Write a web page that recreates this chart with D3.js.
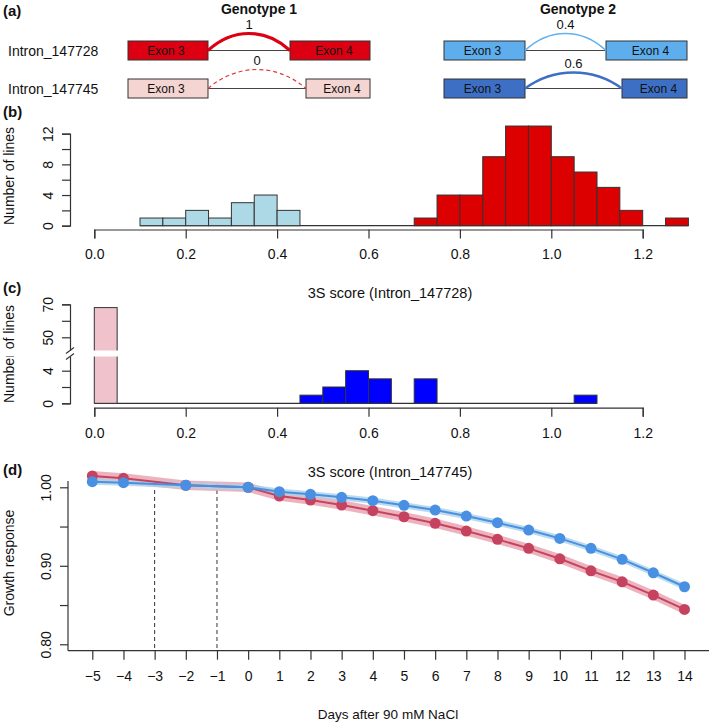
<!DOCTYPE html>
<html>
<head>
<meta charset="utf-8">
<title>3S score figure</title>
<script src="https://d3js.org/d3.v7.min.js"></script>
<style>
  body { margin: 0; background: #fff; }
  svg { font-family: "Liberation Sans", Arial, Helvetica, sans-serif; }
  .axis path, .axis line { stroke: #333; stroke-width: 1.2; }
  .axis text { font-size: 14px; fill: #111; font-family: "Liberation Sans", Arial, sans-serif; }
</style>
</head>
<body>
<script>
// ---- data ----
const introns = ["Intron_147728", "Intron_147745"];
const genotypes = ["Genotype 1", "Genotype 2"];
const g1Usage = [1, 0];
const g2Usage = [0.4, 0.6];

// panel b: 3S score (Intron_147728), bin width 0.05
const bLowStarts = [0.10, 0.15, 0.20, 0.25, 0.30, 0.35, 0.40];
const bLowCounts = [1, 1, 2, 1, 3, 4, 2];
const bHighStarts = [0.70, 0.75, 0.80, 0.85, 0.90, 0.95, 1.00, 1.05, 1.10, 1.15, 1.20, 1.25];
const bHighCounts = [1, 4, 4, 9, 13, 13, 9, 7, 5, 2, 0, 1];

// panel c: 3S score (Intron_147745)
const cLowStarts = [0.00];
const cLowCounts = [68];
const cHighStarts = [0.45, 0.50, 0.55, 0.60, 0.65, 0.70, 0.75, 0.80, 0.85, 0.90, 0.95, 1.00, 1.05];
const cHighCounts = [1, 2, 4, 3, 0, 3, 0, 0, 0, 0, 0, 0, 1];

const scoreTicks = [0, 0.2, 0.4, 0.6, 0.8, 1.0, 1.2];
const bYTicks = [0, 2, 4, 6, 8, 10, 12];
const bYLabels = [0, 4, 8, 12];
const cYTicks = [0, 2, 4, 50, 60, 70];
const cYLabels = [0, 4, 50, 70];

// panel d: growth response
const days = [-5, -4, -2, 0, 1, 2, 3, 4, 5, 6, 7, 8, 9, 10, 11, 12, 13, 14];
const redGrowth = [1.0144, 1.0115, 1.0026, 1.000, 0.9889, 0.9838, 0.9774, 0.9702, 0.9625, 0.9541, 0.9443, 0.9337, 0.9222, 0.9089, 0.8936, 0.8796, 0.8627, 0.8444];
const blueGrowth = [1.0071, 1.0059, 1.0026, 1.000, 0.9944, 0.9911, 0.9872, 0.9829, 0.9770, 0.9710, 0.9634, 0.9549, 0.9455, 0.9349, 0.9222, 0.9082, 0.8911, 0.8733];
const redSE = [0.0065, 0.0065, 0.006, 0.006, 0.006, 0.006, 0.006, 0.006, 0.006, 0.006, 0.006, 0.006, 0.006, 0.006, 0.006, 0.006, 0.006, 0.006];
const blueSE = [0.004, 0.004, 0.004, 0.004, 0.004, 0.004, 0.004, 0.004, 0.004, 0.004, 0.004, 0.004, 0.004, 0.004, 0.004, 0.004, 0.004, 0.004];
const dayTicks = d3.range(-5, 15);
const dYTicks = [0.80, 0.85, 0.90, 0.95, 1.00];
const dYLabels = [0.80, 0.90, 1.00];
const markDays = [-3, -1];

const binW = 0.05;

const svg = d3.select("body").append("svg")
  .attr("width", 709).attr("height", 723);

function panelLabel(txt, x, y) {
  svg.append("text").attr("x", x).attr("y", y)
    .attr("font-size", 15).attr("font-weight", "bold").attr("fill", "#111").text(txt);
}

function rotLabel(txt, x, y) {
  svg.append("text").attr("transform", `translate(${x},${y}) rotate(-90)`)
    .attr("text-anchor", "middle").attr("font-size", 14).attr("fill", "#111").text(txt);
}

function yAxis(scale, x, ticks, labels, fmt) {
  const g = svg.append("g").attr("class", "axis").attr("transform", `translate(${x},0)`)
    .call(d3.axisLeft(scale).tickValues(ticks).tickSizeOuter(0).tickSize(8)
      .tickFormat(d => labels.includes(d) ? fmt(d) : ""));
  g.selectAll(".tick text")
    .attr("transform", "rotate(-90)")
    .attr("x", 0).attr("y", -22)
    .attr("dy", "0.35em")
    .attr("text-anchor", "middle");
  return g;
}

function xAxis(scale, y, ticks, fmt) {
  const g = svg.append("g").attr("class", "axis").attr("transform", `translate(0,${y})`)
    .call(d3.axisBottom(scale).tickValues(ticks).tickSizeOuter(0).tickSize(9).tickFormat(fmt));
  g.selectAll(".tick text").attr("y", 20);
  return g;
}

// ---- panel a ----
panelLabel("(a)", 3, 16);
const rowY = [41, 79];
const boxH = 19;
introns.forEach((name, i) => {
  svg.append("text").attr("x", 8).attr("y", rowY[i] + boxH / 2 + 5)
    .attr("font-size", 14).attr("fill", "#111").text(name);
});

const geneLayouts = [
  { title: genotypes[0], cx: 259, usage: g1Usage,
    exon3: [[128, 208], [128, 208]], exon4: [[290, 370], [306, 370]],
    fills: ["#dc0012", "#f4d5d1"], arcColors: ["#dc0012", "#e23a3f"],
    arcWidths: [3.2, 1.2], dashed: [false, true], peak: [17, 19] },
  { title: genotypes[1], cx: 578, usage: g2Usage,
    exon3: [[444, 525], [444, 525]], exon4: [[606, 687], [622, 687]],
    fills: ["#5eaeee", "#3d6fc4"], arcColors: ["#62b0ee", "#3d6fc4"],
    arcWidths: [1.6, 2.6], dashed: [false, false], peak: [17, 16] }
];

geneLayouts.forEach(L => {
  svg.append("text").attr("x", L.cx).attr("y", 14).attr("text-anchor", "middle")
    .attr("font-size", 14).attr("font-weight", "bold").attr("fill", "#111").text(L.title);
  L.usage.forEach((u, i) => {
    const top = rowY[i], mid = top + boxH / 2;
    const [a0, a1] = L.exon3[i], [b0, b1] = L.exon4[i];
    svg.append("line").attr("x1", a1).attr("x2", b0).attr("y1", mid).attr("y2", mid)
      .attr("stroke", "#444").attr("stroke-width", 1.2);
    [[a0, a1, "Exon 3", -2], [b0, b1, "Exon 4", 4]].forEach(([x0, x1, t, off]) => {
      svg.append("rect").attr("x", x0).attr("y", top).attr("width", x1 - x0).attr("height", boxH)
        .attr("fill", L.fills[i]).attr("stroke", "#333").attr("stroke-width", 1);
      svg.append("text").attr("x", (x0 + x1) / 2 + off).attr("y", mid + 4.5)
        .attr("text-anchor", "middle").attr("font-size", 12).attr("fill", "#111").text(t);
    });
    const yp = mid - L.peak[i];
    const c = (8 * yp - 2 * mid) / 6;
    const w = b0 - a1;
    svg.append("path")
      .attr("d", `M${a1},${mid} C${a1 + w * 0.3},${c} ${b0 - w * 0.3},${c} ${b0},${mid}`)
      .attr("fill", "none").attr("stroke", L.arcColors[i]).attr("stroke-width", L.arcWidths[i])
      .attr("stroke-dasharray", L.dashed[i] ? "4,3" : null);
    svg.append("text").attr("x", (a1 + b0) / 2).attr("y", yp - 5)
      .attr("text-anchor", "middle").attr("font-size", 13).attr("fill", "#111").text(u);
  });
});

// ---- panel b ----
panelLabel("(b)", 3, 117);
const xScore = d3.scaleLinear([0, 1.2], [94.3, 642.7]);
const yB = d3.scaleLinear([0, 12], [225.7, 133.7]);

svg.append("line")
  .attr("x1", xScore(bLowStarts[0])).attr("x2", xScore(bHighStarts[bHighStarts.length - 1] + binW))
  .attr("y1", yB(0)).attr("y2", yB(0)).attr("stroke", "#333").attr("stroke-width", 1.2);

function bars(starts, counts, yS, fill) {
  svg.append("g").selectAll("rect").data(starts.map((s, i) => ({ s, n: counts[i] })).filter(d => d.n > 0))
    .join("rect")
    .attr("x", d => xScore(d.s)).attr("width", d => xScore(d.s + binW) - xScore(d.s))
    .attr("y", d => yS(d.n)).attr("height", d => yS(0) - yS(d.n))
    .attr("fill", fill).attr("stroke", "#333").attr("stroke-width", 1);
}
bars(bLowStarts, bLowCounts, yB, "#add8e6");
bars(bHighStarts, bHighCounts, yB, "#dc0000");

yAxis(yB, 70, bYTicks, bYLabels, d => d);
xAxis(xScore, 229.5, scoreTicks, d3.format(".1f"));
rotLabel("Number of lines", 14, 176);
svg.append("text").attr("x", 390).attr("y", 298).attr("text-anchor", "middle")
  .attr("font-size", 14.5).attr("fill", "#111").text("3S score (Intron_147728)");

// ---- panel c ----
panelLabel("(c)", 3, 293);
const yC = d3.scaleLinear([0, 6, 40, 70], [403.3, 354.4, 353.8, 304.3]);

svg.append("line")
  .attr("x1", xScore(cLowStarts[0])).attr("x2", xScore(cHighStarts[cHighStarts.length - 1] + binW))
  .attr("y1", yC(0)).attr("y2", yC(0)).attr("stroke", "#333").attr("stroke-width", 1.2);
bars(cLowStarts, cLowCounts, yC, "#efc2cc");
bars(cHighStarts, cHighCounts, yC, "#0000ff");

yAxis(yC, 70, cYTicks, cYLabels, d => d);
xAxis(xScore, 407.7, scoreTicks, d3.format(".1f"));
rotLabel("Number of lines", 14, 354);

// axis break
svg.append("rect").attr("x", 0).attr("y", 350.5).attr("width", 118).attr("height", 6).attr("fill", "#fff");
[350.5, 356.5].forEach(y => {
  svg.append("line").attr("x1", 66).attr("x2", 74).attr("y1", y + 3).attr("y2", y - 3)
    .attr("stroke", "#333").attr("stroke-width", 1.1);
});

svg.append("text").attr("x", 390).attr("y", 477).attr("text-anchor", "middle")
  .attr("font-size", 14.5).attr("fill", "#111").text("3S score (Intron_147745)");

// ---- panel d ----
panelLabel("(d)", 3, 475);
const xD = d3.scaleLinear([-5, 14], [92.3, 684.5]);
const yD = d3.scaleLinear([0.80, 1.00], [644.3, 487.3]);
const plotTop = 481, plotBottom = 650.7;

markDays.forEach(d => {
  svg.append("line").attr("x1", xD(d)).attr("x2", xD(d)).attr("y1", plotTop + 2).attr("y2", plotBottom)
    .attr("stroke", "#333").attr("stroke-width", 1).attr("stroke-dasharray", "4,3");
});

const series = [
  { vals: redGrowth, se: redSE, band: "#e7a0ae", line: "#c6435f" },
  { vals: blueGrowth, se: blueSE, band: "#a9d2ea", line: "#4a90e2" }
];
const area = d3.area().x(d => xD(d.day)).y0(d => yD(d.v - d.se)).y1(d => yD(d.v + d.se));
const line = d3.line().x(d => xD(d.day)).y(d => yD(d.v));
const pts = series.map(s => days.map((day, i) => ({ day, v: s.vals[i], se: s.se[i] })));

series.forEach((s, k) => {
  svg.append("path").datum(pts[k]).attr("d", area).attr("fill", s.band).attr("opacity", 0.8);
});
series.forEach((s, k) => {
  svg.append("path").datum(pts[k]).attr("d", line).attr("fill", "none")
    .attr("stroke", s.line).attr("stroke-width", 2);
  svg.append("g").selectAll("circle").data(pts[k]).join("circle")
    .attr("cx", d => xD(d.day)).attr("cy", d => yD(d.v)).attr("r", 5.5).attr("fill", s.line);
});

// frame (L-shaped)
svg.append("line").attr("x1", 68).attr("x2", 68).attr("y1", plotTop).attr("y2", plotBottom)
  .attr("stroke", "#333").attr("stroke-width", 1.2);
svg.append("line").attr("x1", 68).attr("x2", 709).attr("y1", plotBottom).attr("y2", plotBottom)
  .attr("stroke", "#333").attr("stroke-width", 1.2);

const gdy = yAxis(yD, 68, dYTicks, dYLabels, d3.format(".2f"));
gdy.select(".domain").remove();
const gdx = xAxis(xD, plotBottom, dayTicks, d => d < 0 ? "\u2212" + (-d) : d);
gdx.select(".domain").remove();
rotLabel("Growth response", 14, 563);
svg.append("text").attr("x", 388).attr("y", 719).attr("text-anchor", "middle")
  .attr("font-size", 13.5).attr("fill", "#111").text("Days after 90 mM NaCl");
</script>
</body>
</html>
